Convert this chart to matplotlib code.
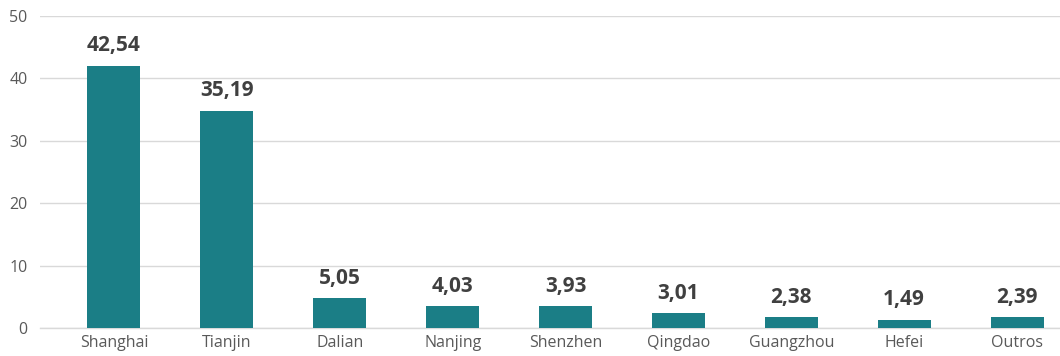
import matplotlib
matplotlib.use("Agg")
import matplotlib.pyplot as plt

categories = ["Shanghai", "Tianjin", "Dalian", "Nanjing", "Shenzhen",
              "Qingdao", "Guangzhou", "Hefei", "Outros"]
bar_values = [42.0, 34.8, 4.8, 3.5, 3.5, 2.4, 1.75, 1.3, 1.75]
value_labels = ["42,54", "35,19", "5,05", "4,03", "3,93", "3,01", "2,38", "1,49", "2,39"]
y_ticks = [0, 10, 20, 30, 40, 50]

plt.rcParams['font.family'] = ['Open Sans', 'DejaVu Sans']

W, H = 1060, 356
fig = plt.figure(figsize=(W / 100, H / 100), dpi=100)
left, right = 40 / W, 1.0
bottom, top = 1 - 328.3 / H, 1 - 15.7 / H
ax = fig.add_axes([left, bottom, right - left, top - bottom])

x = list(range(len(categories)))
bars = ax.bar(x, bar_values, width=0.47, color="#1B7E86", zorder=3)

for b, lab in zip(bars, value_labels):
    ax.annotate(lab, (b.get_x() + b.get_width() / 2, b.get_height()),
                xytext=(0, 7), textcoords="offset points",
                ha="center", va="bottom", fontsize=15, fontweight="bold",
                color="#404040")

ax.set_xlim(-0.655, 8.38)
ax.set_ylim(0, 50)
ax.set_yticks(y_ticks)
ax.set_xticks(x)
ax.set_xticklabels(categories)
ax.yaxis.grid(True, color="#d9d9d9", linewidth=1, zorder=0)
for s in ["top", "right", "left"]:
    ax.spines[s].set_visible(False)
ax.spines["bottom"].set_color("#d9d9d9")
ax.spines["bottom"].set_linewidth(1)
ax.tick_params(axis="both", length=0, labelsize=11.5, colors="#595959")
ax.tick_params(axis="y", pad=9)
ax.tick_params(axis="x", pad=5)

fig.savefig("out.png", dpi=100)
